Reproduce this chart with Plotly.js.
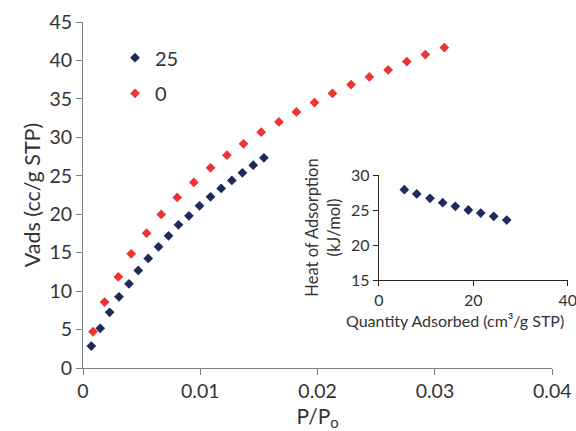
<!DOCTYPE html>
<html>
<head>
<meta charset="utf-8">
<script src="https://cdn.plot.ly/plotly-3.0.1.min.js"></script>
<style>html,body{margin:0;padding:0;background:#fff;}#chart{width:576px;height:431px;}</style>
</head>
<body>
<div id="chart"></div>
<script>
// Main isotherm data (P/Po vs Vads)
const p25 = [0.00071,0.00147,0.00227,0.00307,0.00392,0.00471,0.00556,0.00644,0.00729,0.00814,0.00903,0.00993,0.01087,0.01178,0.01269,0.01359,0.01451,0.01542];
const v25 = [2.86,5.16,7.24,9.26,10.95,12.69,14.25,15.76,17.19,18.62,19.79,21.09,22.26,23.35,24.39,25.38,26.38,27.33];
const p0 = [0.00085,0.00184,0.00301,0.00411,0.00542,0.00667,0.00803,0.00945,0.01087,0.01227,0.01368,0.01519,0.01670,0.01819,0.01973,0.02126,0.02285,0.02441,0.02601,0.02760,0.02918,0.03080];
const v0 = [4.72,8.58,11.86,14.85,17.54,19.97,22.18,24.13,26.03,27.68,29.15,30.67,32.01,33.30,34.52,35.73,36.86,37.85,38.76,39.85,40.76,41.67];
// Inset: heat of adsorption
const qAds = [5.37,8.0,10.81,13.5,16.18,18.94,21.56,24.32,27.07];
const heat = [27.9,27.29,26.67,26.04,25.53,25.0,24.57,24.1,23.57];
// Labels
const seriesNames = ['25','0'];
const xTicksMain = [0,0.01,0.02,0.03,0.04];
const yTicksMain = [0,5,10,15,20,25,30,35,40,45];
const xTicksInset = [0,20,40];
const yTicksInset = [15,20,25,30];
const insetXTitle = 'Quantity Adsorbed (cm³/g STP)';

const BLUE = '#1d2a5b', RED = '#ec3434';
const FONT = 'Lato, "Open Sans", sans-serif';
const traces = [
  {x:p25, y:v25, name:seriesNames[0], type:'scatter', mode:'markers',
   marker:{symbol:'diamond', size:7.5, color:BLUE}, xaxis:'x', yaxis:'y', legend:'legend'},
  {x:p0, y:v0, name:seriesNames[1], type:'scatter', mode:'markers',
   marker:{symbol:'diamond', size:7.5, color:RED}, xaxis:'x', yaxis:'y', legend:'legend2'},
  {x:qAds, y:heat, name:'heat', type:'scatter', mode:'markers', showlegend:false,
   marker:{symbol:'diamond', size:7.5, color:BLUE}, xaxis:'x2', yaxis:'y2'}
];
const axisMain = {showline:true, linecolor:'#808080', linewidth:1, ticks:'outside', ticklen:6,
  tickcolor:'#808080', showgrid:false, zeroline:false, tickfont:{family:FONT, size:19.5, color:'#333'}};
const axisInset = {showline:true, linecolor:'#222', linewidth:1.3, ticks:'outside', ticklen:5,
  tickcolor:'#222', showgrid:false, zeroline:false, ticklabeloverflow:'allow',
  tickfont:{family:FONT, size:16, color:'#333'}};
const layout = {
  width:576, height:431,
  margin:{l:83, r:8, t:22, b:63},
  paper_bgcolor:'#fff', plot_bgcolor:'rgba(0,0,0,0)',
  font:{family:FONT, color:'#333'},
  xaxis:Object.assign({}, axisMain, {domain:[0,0.9676], range:[0,0.04], tickvals:xTicksMain,
    ticktext:xTicksMain.map(String), anchor:'y', ticklabeloverflow:'allow',
    title:{text:'P/P<sub>o</sub>', font:{family:FONT, size:21, color:'#333'}, standoff:23}}),
  yaxis:Object.assign({}, axisMain, {domain:[0,1], range:[0,45], tickvals:yTicksMain, anchor:'x',
    title:{text:'Vads (cc/g STP)', font:{family:FONT, size:21.5, color:'#333'}, standoff:2}}),
  xaxis2:Object.assign({}, axisInset, {domain:[0.6103,0.9994], range:[0,40], tickvals:xTicksInset, anchor:'y2'}),
  yaxis2:Object.assign({}, axisInset, {domain:[0.2543,0.5578], range:[15,30], tickvals:yTicksInset, anchor:'x2',
    title:{text:'Heat of Adsorption<br>(kJ/mol)', font:{family:FONT, size:16.5, color:'#333'}, standoff:6}}),
  annotations:[{text:insetXTitle, xref:'paper', yref:'paper', x:0.767, y:0.1387,
    xanchor:'center', yanchor:'middle', showarrow:false, font:{family:FONT, size:16, color:'#333'}}],
  legend:{x:0.066, y:0.8968, xanchor:'left', yanchor:'middle', bgcolor:'rgba(0,0,0,0)',
    font:{family:FONT, size:20, color:'#333'}},
  legend2:{x:0.066, y:0.7939, xanchor:'left', yanchor:'middle', bgcolor:'rgba(0,0,0,0)',
    font:{family:FONT, size:20, color:'#333'}},
  showlegend:true
};
Plotly.newPlot('chart', traces, layout, {displayModeBar:false, staticPlot:true});
</script>
</body>
</html>
